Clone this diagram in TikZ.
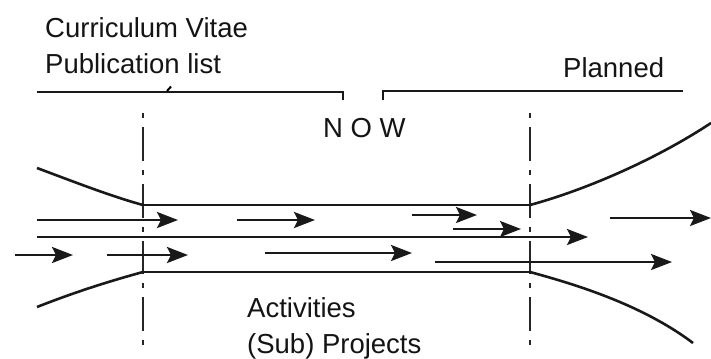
\documentclass[tikz,border=0pt]{standalone}
\usepackage{fontspec}
\setmainfont{Liberation Sans}
\usetikzlibrary{arrows.meta}
\begin{document}
\begin{tikzpicture}[x=1bp,y=-1bp,
  line/.style={line width=2.6bp,draw=black!90},
  flow/.style={line, -{Stealth[length=21bp,width=16bp,inset=4bp]}},
  guide/.style={line width=2.5bp,draw=black!85,dash pattern=on 5bp off 9bp on 33.75bp off 9bp},
  label/.style={anchor=base west,inner sep=0pt,text=black!92,font=\fontsize{27.5bp}{33bp}\selectfont}]
  \useasboundingbox[fill=white] (0,0) rectangle (711,358);

  % headings
  \node[label] (cv)   at (45,37)  {Curriculum Vitae};
  \node[label] (pub)  at (45,73)  {Publication list};
  \node[label] (plan) at (563,77) {Planned};
  \node[label] (now)  at (323,137) {N O W};
  \node[label] (act)  at (247,317) {Activities};
  \node[label] (proj) at (247,353) {(Sub) Projects};

  % time brackets: past and planned
  \coordinate (pastL) at (37,92);
  \coordinate (pastR) at (343,92);
  \coordinate (pastT) at (343,100);
  \coordinate (futL) at (383,91);
  \coordinate (futB) at (383,100);
  \coordinate (futR) at (683,91);
  \draw[line] (pastL) -- (pastR) -- (pastT);
  \draw[line] (futB) -- (futL) -- (futR);
  \draw[line width=2bp] (167,91) -- (171,86.5);

  % period boundaries
  \coordinate (gA1) at (143,113);
  \coordinate (gA2) at (143,345);
  \coordinate (gB1) at (530,113);
  \coordinate (gB2) at (530,345);
  \draw[guide] (gA1) -- (gA2);
  \draw[guide] (gB1) -- (gB2);

  % channel walls and funnels
  \coordinate (cTL) at (143,205);
  \coordinate (cTR) at (530,205);
  \coordinate (cBL) at (143,272);
  \coordinate (cBR) at (530,272);
  \draw[line] (cTL) -- (cTR);
  \draw[line] (cBL) -- (cBR);
  \draw[line] (37,168) .. controls (72,181) and (110,196) .. (cTL);
  \draw[line] (37,307) .. controls (75,292) and (110,281) .. (cBL);
  \draw[line] (cTR) .. controls (585,190) and (655,160) .. (711,123);
  \draw[line] (cBR) .. controls (570,283) and (640,303) .. (693,343);

  % activity arrows
  \coordinate (a1s) at (37,220);  \coordinate (a1e) at (178,220);
  \coordinate (a2s) at (237,220); \coordinate (a2e) at (315,220);
  \coordinate (a3s) at (412,215); \coordinate (a3e) at (477,215);
  \coordinate (a4s) at (453,229); \coordinate (a4e) at (521,229);
  \coordinate (a5s) at (610,218); \coordinate (a5e) at (711,218);
  \coordinate (a6s) at (37,237);  \coordinate (a6e) at (588,237);
  \coordinate (a7s) at (15,255);  \coordinate (a7e) at (73,255);
  \coordinate (a8s) at (107,255); \coordinate (a8e) at (188,255);
  \coordinate (a9s) at (265,253); \coordinate (a9e) at (412,253);
  \coordinate (a10s) at (435,262); \coordinate (a10e) at (672,262);
  \foreach \i in {1,...,10} \draw[flow] (a\i s) -- (a\i e);
\end{tikzpicture}
\end{document}
